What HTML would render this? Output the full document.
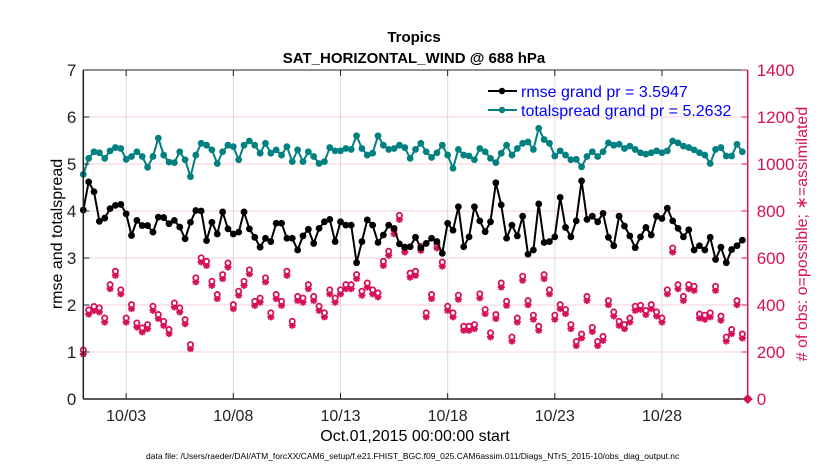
<!DOCTYPE html>
<html><head><meta charset="utf-8">
<style>
html,body{margin:0;padding:0;background:#fff;}
svg{display:block;font-family:"Liberation Sans",Arial,sans-serif;}
</style></head>
<body>
<svg id="chart" width="830" height="470" viewBox="0 0 830 470">
  <text x="414" y="42" text-anchor="middle" font-size="15" font-weight="bold">Tropics</text>
  <text x="414" y="63" text-anchor="middle" font-size="15" font-weight="bold">SAT_HORIZONTAL_WIND @ 688 hPa</text>
  <g id="grid"></g>
  <g id="series"></g>
  <g id="axes"></g>
  <text x="0" y="0" transform="translate(62,234) rotate(-90)" text-anchor="middle" font-size="16">rmse and totalspread</text>
  <text x="0" y="0" transform="translate(807,234) rotate(-90)" text-anchor="middle" font-size="16" fill="#d6105a"># of obs: o=possible; ∗=assimilated</text>
  <text x="415" y="441" text-anchor="middle" font-size="16">Oct.01,2015 00:00:00 start</text>
  <text x="146" y="459" font-size="8.5">data file: /Users/raeder/DAI/ATM_forcXX/CAM6_setup/f.e21.FHIST_BGC.f09_025.CAM6assim.011/Diags_NTrS_2015-10/obs_diag_output.nc</text>
  <g id="legend">
    <line x1="488" y1="91" x2="517" y2="91" stroke="#000" stroke-width="2"/>
    <circle cx="502" cy="91" r="3.2" fill="#000"/>
    <text x="521" y="97" font-size="16" fill="#0000ff">rmse grand pr = 3.5947</text>
    <line x1="488" y1="110" x2="517" y2="110" stroke="#008080" stroke-width="2"/>
    <circle cx="502" cy="110" r="3.2" fill="#008080"/>
    <text x="521" y="116" font-size="16" fill="#0000ff">totalspread grand pr = 5.2632</text>
  </g>
</svg>
<script>
const rmse = [4.02,4.62,4.41,3.78,3.85,4.05,4.12,4.14,3.94,3.48,3.80,3.69,3.69,3.55,3.87,3.86,3.73,3.80,3.66,3.41,3.76,4.01,4.00,3.37,3.76,3.51,3.98,3.62,3.51,3.55,3.98,3.62,3.44,3.23,
3.42,3.35,3.74,3.74,3.42,3.42,3.17,3.47,3.61,3.31,3.63,3.77,3.82,3.35,3.77,3.70,3.70,2.90,3.35,3.81,3.70,3.33,3.49,3.70,3.63,3.30,3.23,3.24,3.44,3.21,3.31,
3.42,3.35,3.10,3.74,3.59,4.09,3.24,3.45,4.09,3.79,3.56,3.77,4.60,4.13,3.42,3.70,3.47,3.89,3.08,3.17,4.15,3.33,3.35,3.45,4.29,3.65,3.45,3.79,4.64,3.82,3.89,3.77,
3.95,3.44,3.26,3.89,3.68,3.47,3.22,3.45,3.65,3.49,3.89,3.84,4.06,3.79,3.63,3.45,3.60,3.17,3.26,3.17,3.44,2.97,3.23,2.90,3.18,3.26,3.38];
const totalspread = [4.78,5.12,5.26,5.24,5.12,5.28,5.35,5.33,5.10,5.16,5.26,5.16,4.93,5.16,5.55,5.19,5.04,5.03,5.26,5.09,4.73,5.19,5.44,5.40,5.30,5.01,5.26,5.40,5.37,5.09,5.40,5.49,5.40,5.23,
5.44,5.23,5.30,5.19,5.37,5.05,5.30,5.05,5.26,5.16,5.01,5.05,5.35,5.28,5.28,5.33,5.31,5.60,5.33,5.19,5.23,5.60,5.40,5.31,5.33,5.40,5.35,5.12,5.31,5.44,5.26,
5.14,5.24,5.40,5.19,4.91,5.31,5.19,5.17,5.09,5.33,5.26,5.12,5.03,5.23,5.40,5.19,5.33,5.44,5.47,5.31,5.76,5.52,5.44,5.17,5.28,5.19,5.09,5.10,4.94,5.16,5.26,5.16,
5.26,5.45,5.40,5.42,5.33,5.38,5.31,5.24,5.21,5.24,5.28,5.24,5.28,5.49,5.45,5.38,5.35,5.30,5.24,5.19,5.01,5.31,5.35,5.17,5.17,5.42,5.26];
const obsCount = [200,370,385,379,336,478,535,456,336,393,315,294,308,386,351,322,287,400,379,329,223,507,592,577,492,436,521,570,393,450,492,541,407,421,
507,358,436,407,535,322,428,421,478,428,386,358,456,421,456,478,478,521,450,485,456,443,577,620,712,773,634,527,535,641,358,
436,651,574,386,358,433,301,301,308,439,372,273,351,485,407,255,336,514,410,348,301,521,456,348,393,372,308,236,268,428,296,236,
258,410,362,322,308,336,386,390,368,393,362,336,456,634,478,428,478,471,353,348,358,471,344,255,287,410,268];
const finalObs = [0];
const xTickDays = [2,7,12,17,22,27];
const xTickLabels = ["10/03","10/08","10/13","10/18","10/23","10/28"];
const yTicks = [0,1,2,3,4,5,6,7];
const rTicks = [0,200,400,600,800,1000,1200,1400];

const L=83.3,R=747.7,T=70,B=399;
const D0=0,D1=31,STEP=0.25;
const xs=d=>L+(d-D0)/(D1-D0)*(R-L);
const yl=v=>B-v/7*(B-T);
const yr=v=>B-v/1400*(B-T);
const NS="http://www.w3.org/2000/svg";
function mk(tag,attrs,parent){const e=document.createElementNS(NS,tag);for(const k in attrs)e.setAttribute(k,attrs[k]);parent.appendChild(e);return e;}
const grid=document.getElementById('grid'),axes=document.getElementById('axes'),ser=document.getElementById('series');
const PINK="#d6105a";

rTicks.forEach(v=>{
  if(v>0&&v<1400){const g=mk('line',{x1:L,x2:R,y1:yr(v),y2:yr(v),stroke:'#f6cfdc','stroke-width':1},grid);
  
  }
});
xTickDays.forEach(d=>{
  const g=mk('line',{x1:xs(d),x2:xs(d),y1:T,y2:B,stroke:'#dadada','stroke-width':1},grid);
  
  
});

obsCount.forEach((v,i)=>{
  const x=xs(i*STEP),y=yr(v);
  const g=mk('g',{},ser);
  
  
  const ay=y+2;
  mk('line',{x1:x-3.5,x2:x+3.5,y1:ay,y2:ay,stroke:PINK,'stroke-width':2},g);
  mk('line',{x1:x,x2:x,y1:ay-3.5,y2:ay+3.5,stroke:PINK,'stroke-width':2},g);
  mk('line',{x1:x-2.6,x2:x+2.6,y1:ay-2.6,y2:ay+2.6,stroke:PINK,'stroke-width':1.6},g);
  mk('line',{x1:x-2.6,x2:x+2.6,y1:ay+2.6,y2:ay-2.6,stroke:PINK,'stroke-width':1.6},g);
  mk('circle',{cx:x,cy:y-2,r:2.6,fill:'#fff',stroke:PINK,'stroke-width':1.8},g);
});
finalObs.forEach(v=>{
  const x=R,y=yr(v);
  const e=mk('path',{d:`M${x-5},${y} L${x},${y-5} L${x+5},${y} L${x},${y+5} Z`,fill:PINK},ser);
  
  
});

function line(arr,color,name){
  const pts=arr.map((v,i)=>xs(i*STEP).toFixed(1)+','+yl(v).toFixed(1)).join(' ');
  const p=mk('polyline',{points:pts,fill:'none',stroke:color,'stroke-width':2,'stroke-linejoin':'round'},ser);
  
  
  arr.forEach((v,i)=>{
    const c=mk('circle',{cx:xs(i*STEP),cy:yl(v),r:3.4,fill:color},ser);
    
    
  });
}
line(totalspread,'#008080','totalspread');
line(rmse,'#000000','rmse');

const lf=mk('line',{x1:L,x2:L,y1:T,y2:B,stroke:'#222','stroke-width':1.5},axes);


const bf=mk('line',{x1:L,x2:R,y1:B,y2:B,stroke:'#222','stroke-width':1.5},axes);


const tf=mk('line',{x1:L,x2:R,y1:T,y2:T,stroke:'#222','stroke-width':1},axes);


const rf=mk('line',{x1:R,x2:R,y1:T,y2:B,stroke:PINK,'stroke-width':1.5},axes);



yTicks.forEach(v=>{
  const y=yl(v);
  mk('line',{x1:L,x2:L+6,y1:y,y2:y,stroke:'#222','stroke-width':1},axes);
  const t=mk('text',{x:L-7,y:y+6,'text-anchor':'end','font-size':17,fill:'#222'},axes);
  t.textContent=v;
  
  
});
rTicks.forEach(v=>{
  const y=yr(v);
  mk('line',{x1:R-6,x2:R,y1:y,y2:y,stroke:PINK,'stroke-width':1},axes);
  const t=mk('text',{x:R+9,y:y+6,'font-size':17,fill:PINK},axes);
  t.textContent=v;
  
  
});
xTickDays.forEach((d,i)=>{
  const x=xs(d);
  mk('line',{x1:x,x2:x,y1:B,y2:B-6,stroke:'#222','stroke-width':1},axes);
  mk('line',{x1:x,x2:x,y1:T,y2:T+6,stroke:'#222','stroke-width':1},axes);
  const t=mk('text',{x:x,y:421,'text-anchor':'middle','font-size':16,fill:'#222'},axes);
  t.textContent=xTickLabels[i];
  
  
});
</script>
</body></html>
